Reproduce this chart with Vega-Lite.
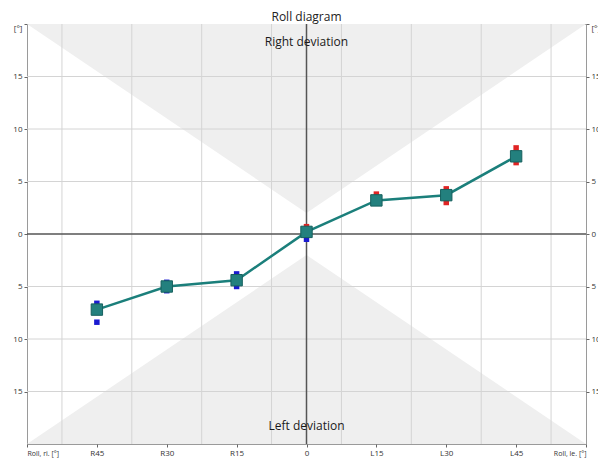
{
  "$schema": "https://vega.github.io/schema/vega-lite/v6.json",
  "width": 559,
  "height": 420,
  "autosize": "none",
  "padding": {"left": 27, "top": 24, "right": 12, "bottom": 15},
  "background": "white",
  "title": {"text": "Roll diagram", "fontSize": 12, "font": "Open Sans", "fontWeight": "normal", "offset": -1, "color": "#222222"},
  "config": {
    "view": {"stroke": "#9a9a9a", "strokeWidth": 1},
    "axis": {"labelFont": "Open Sans", "labelFontSize": 8, "labelColor": "#333333", "tickColor": "#666666", "tickSize": 3, "domain": false, "grid": false, "title": null, "labelPadding": 2}
  },
  "datasets": {
    "tri": [
      {"x": -4, "lo": 20, "hi": 20, "grp": "top"},
      {"x": 0, "lo": 2, "hi": 20, "grp": "top"},
      {"x": 4, "lo": 20, "hi": 20, "grp": "top"},
      {"x": -4, "lo": -20, "hi": -20, "grp": "bottom"},
      {"x": 0, "lo": -20, "hi": -2, "grp": "bottom"},
      {"x": 4, "lo": -20, "hi": -20, "grp": "bottom"}
    ],
    "vgrid": [{"gx": -3.5}, {"gx": -2.5}, {"gx": -1.5}, {"gx": -0.5}, {"gx": 0.5}, {"gx": 1.5}, {"gx": 2.5}, {"gx": 3.5}],
    "hgrid": [{"gy": -15}, {"gy": -10}, {"gy": -5}, {"gy": 5}, {"gy": 10}, {"gy": 15}],
    "labels": [
      {"x": 0, "y": 18.3, "t": "Right deviation"},
      {"x": 0, "y": -18.3, "t": "Left deviation"}
    ],
    "meas": [
      {"x": -3, "v": -6.6, "side": "ri"},
      {"x": -3, "v": -8.4, "side": "ri"},
      {"x": -2, "v": -4.6, "side": "ri"},
      {"x": -2, "v": -5.4, "side": "ri"},
      {"x": -1, "v": -3.8, "side": "ri"},
      {"x": -1, "v": -5.0, "side": "ri"},
      {"x": 0, "v": 0.7, "side": "le"},
      {"x": 0, "v": -0.5, "side": "ri"},
      {"x": 1, "v": 3.8, "side": "le"},
      {"x": 1, "v": 3.0, "side": "le"},
      {"x": 2, "v": 4.3, "side": "le"},
      {"x": 2, "v": 3.0, "side": "le"},
      {"x": 3, "v": 8.2, "side": "le"},
      {"x": 3, "v": 6.8, "side": "le"}
    ],
    "means": [
      {"x": -3, "m": -7.2},
      {"x": -2, "m": -5.0},
      {"x": -1, "m": -4.4},
      {"x": 0, "m": 0.2},
      {"x": 1, "m": 3.2},
      {"x": 2, "m": 3.7},
      {"x": 3, "m": 7.4}
    ]
  },
  "resolve": {"axis": {"y": "independent"}},
  "layer": [
    {
      "data": {"name": "tri"},
      "mark": {"type": "area", "color": "#efefef", "opacity": 1},
      "encoding": {
        "x": {"field": "x", "type": "quantitative", "scale": {"domain": [-4, 4], "nice": false, "zero": false},
          "axis": {"values": [-4, -3, -2, -1, 0, 1, 2, 3, 4],
            "labelExpr": "['Roll, ri. [°]','R45','R30','R15','0','L15','L30','L45','Roll, le. [°]'][datum.value + 4]",
            "labelAlign": {"condition": [{"test": "datum.value == -4", "value": "left"}, {"test": "datum.value == 4", "value": "right"}], "value": "center"},
            "labelFontSize": {"condition": {"test": "abs(datum.value) == 4", "value": 7}, "value": 8},
            "ticks": {"condition": {"test": "abs(datum.value) == 4", "value": false}, "value": true},
            "labelFlush": false, "labelOverlap": false}},
        "y": {"field": "lo", "type": "quantitative", "scale": {"domain": [-20, 20], "nice": false},
          "axis": {"orient": "left", "values": [-15, -10, -5, 0, 5, 10, 15, 20], "labelExpr": "datum.value == 20 ? '[°]' : format(abs(datum.value), 'd')",
            "labelBaseline": {"condition": {"test": "datum.value == 20", "value": "top"}, "value": "middle"}, "labelFlush": false, "labelOverlap": false}},
        "y2": {"field": "hi"},
        "detail": {"field": "grp"}
      }
    },
    {
      "data": {"name": "vgrid"},
      "mark": {"type": "rule", "color": "#d4d4d4", "strokeWidth": 1},
      "encoding": {"x": {"field": "gx", "type": "quantitative"}}
    },
    {
      "data": {"name": "hgrid"},
      "mark": {"type": "rule", "color": "#d4d4d4", "strokeWidth": 1},
      "encoding": {"y": {"field": "gy", "type": "quantitative",
        "axis": {"orient": "right", "values": [-15, -10, -5, 0, 5, 10, 15, 20], "labelExpr": "datum.value == 20 ? '[°]' : format(abs(datum.value), 'd')",
          "labelBaseline": {"condition": {"test": "datum.value == 20", "value": "top"}, "value": "middle"}, "labelFlush": false, "labelOverlap": false}}}
    },
    {
      "data": {"values": [{"z": 0}]},
      "mark": {"type": "rule", "color": "#555555", "strokeWidth": 1.5},
      "encoding": {"x": {"field": "z", "type": "quantitative"}}
    },
    {
      "data": {"values": [{"z": 0}]},
      "mark": {"type": "rule", "color": "#555555", "strokeWidth": 1.5},
      "encoding": {"y": {"field": "z", "type": "quantitative", "axis": null}}
    },
    {
      "data": {"name": "labels"},
      "mark": {"type": "text", "font": "Open Sans", "fontSize": 12, "color": "#1a1a1a", "baseline": "middle", "align": "center"},
      "encoding": {
        "x": {"field": "x", "type": "quantitative"},
        "y": {"field": "y", "type": "quantitative", "axis": null},
        "text": {"field": "t"}
      }
    },
    {
      "data": {"name": "meas"},
      "mark": {"type": "square", "filled": true, "size": 30, "opacity": 1},
      "encoding": {
        "x": {"field": "x", "type": "quantitative"},
        "y": {"field": "v", "type": "quantitative", "axis": null},
        "color": {"field": "side", "type": "nominal", "scale": {"domain": ["ri", "le"], "range": ["#1a1ad0", "#e02424"]}, "legend": null}
      }
    },
    {
      "data": {"name": "means"},
      "mark": {"type": "line", "color": "#1b7f7b", "strokeWidth": 2.5},
      "encoding": {
        "x": {"field": "x", "type": "quantitative"},
        "y": {"field": "m", "type": "quantitative", "axis": null}
      }
    },
    {
      "data": {"name": "means"},
      "mark": {"type": "square", "filled": true, "size": 130, "color": "#23807e", "stroke": "#17605e", "strokeWidth": 1, "opacity": 1},
      "encoding": {
        "x": {"field": "x", "type": "quantitative"},
        "y": {"field": "m", "type": "quantitative", "axis": null}
      }
    }
  ]
}
